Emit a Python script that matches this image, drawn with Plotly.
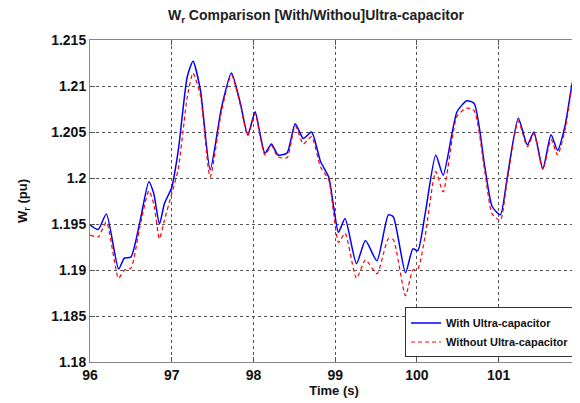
import plotly.graph_objects as go

time_s = [96.00, 96.10, 96.20, 96.35, 96.42, 96.50, 96.61, 96.72, 96.78, 96.85, 96.91,
          97.00, 97.08, 97.19, 97.26, 97.35, 97.47, 97.61, 97.73, 97.84, 97.93,
          98.02, 98.08, 98.14, 98.22, 98.30, 98.41, 98.51, 98.61, 98.71, 98.82, 98.92, 98.98,
          99.04, 99.12, 99.26, 99.37, 99.51, 99.65, 99.71, 99.86, 99.95,
          100.01, 100.10, 100.23, 100.32, 100.49, 100.61, 100.70, 100.83, 100.92,
          101.02, 101.10, 101.24, 101.35, 101.43, 101.54, 101.64, 101.72, 101.81, 101.90, 101.98]

with_uc = [1.1949, 1.1944, 1.1961, 1.1901, 1.1913, 1.1914, 1.1952, 1.1996, 1.1983, 1.1950, 1.1972,
           1.1990, 1.2030, 1.2110, 1.2127, 1.2096, 1.2009, 1.2077, 1.2114, 1.2081, 1.2047,
           1.2072, 1.2048, 1.2027, 1.2037, 1.2025, 1.2027, 1.2059, 1.2043, 1.2050, 1.2018, 1.2001, 1.1969,
           1.1941, 1.1956, 1.1907, 1.1932, 1.1910, 1.1960, 1.1958, 1.1897, 1.1923,
           1.1921, 1.1961, 1.2025, 1.2003, 1.2072, 1.2084, 1.2081, 1.2012, 1.1969,
           1.1960, 1.1998, 1.2065, 1.2036, 1.2050, 1.2010, 1.2047, 1.2030, 1.2056, 1.2103, 1.2127]

without_uc = [1.1938, 1.1936, 1.1952, 1.1891, 1.1900, 1.1902, 1.1947, 1.1986, 1.1972, 1.1934, 1.1954,
              1.1983, 1.2010, 1.2088, 1.2114, 1.2090, 1.2001, 1.2073, 1.2112, 1.2079, 1.2046,
              1.2070, 1.2046, 1.2025, 1.2035, 1.2023, 1.2022, 1.2057, 1.2037, 1.2045, 1.2012, 1.1998, 1.1962,
              1.1930, 1.1940, 1.1891, 1.1911, 1.1896, 1.1934, 1.1933, 1.1872, 1.1900,
              1.1901, 1.1937, 1.2007, 1.1985, 1.2067, 1.2076, 1.2073, 1.2007, 1.1961,
              1.1954, 1.1995, 1.2062, 1.2034, 1.2048, 1.2009, 1.2042, 1.2025, 1.2052, 1.2100, 1.2123]

x_ticks = [96, 97, 98, 99, 100, 101]
x_tick_labels = ["96", "97", "98", "99", "100", "101"]
y_ticks = [1.18, 1.185, 1.19, 1.195, 1.2, 1.205, 1.21, 1.215]
y_tick_labels = ["1.18", "1.185", "1.19", "1.195", "1.2", "1.205", "1.21", "1.215"]

fig = go.Figure()
fig.add_trace(go.Scatter(x=time_s, y=with_uc, mode="lines", name="With Ultra-capacitor",
                         line=dict(color="#0000FF", width=1.5, shape="spline", smoothing=0.6)))
fig.add_trace(go.Scatter(x=time_s, y=without_uc, mode="lines", name="Without Ultra-capacitor",
                         line=dict(color="#FF0000", width=1.2, dash="4px,3px", shape="spline", smoothing=0.6)))

tick_font = dict(family="Liberation Sans, Arial", size=14, color="#111111", weight="bold")
axis_common = dict(showline=True, linecolor="#888888", linewidth=1, mirror="allticks",
                   ticks="inside", ticklen=5, tickcolor="#555555",
                   showgrid=True, gridcolor="#555555", griddash="dot", gridwidth=1,
                   zeroline=False, tickfont=tick_font)

fig.update_layout(
    width=572, height=395,
    margin=dict(l=82, r=2, t=32, b=41),
    paper_bgcolor="white", plot_bgcolor="white",
    font=dict(family="Liberation Sans, Arial", color="#111111"),
    title=dict(text="<b>W<sub>r</sub> Comparison [With/Withou]Ultra-capacitor</b>",
               x=0.463, xref="paper", xanchor="center", y=0.995, yanchor="top",
               font=dict(size=14, color="#222222")),
    xaxis=dict(range=[96, 101.97], tickvals=x_ticks, ticktext=x_tick_labels,
               title=dict(text="<b>Time (s)</b>", font=dict(size=13), standoff=0), **axis_common),
    yaxis=dict(range=[1.18, 1.215], tickvals=y_ticks, ticktext=y_tick_labels,
               title=dict(text="<b>W<sub>r</sub> (pu)</b>", font=dict(size=13), standoff=20), **axis_common),
    legend=dict(x=0.994, y=0.014, xanchor="right", yanchor="bottom",
                bgcolor="white", bordercolor="#333333", borderwidth=1,
                font=dict(size=11, color="#111111", weight="bold"), tracegroupgap=0,
                itemwidth=30),
    showlegend=True,
)
fig.write_html("out.html")
